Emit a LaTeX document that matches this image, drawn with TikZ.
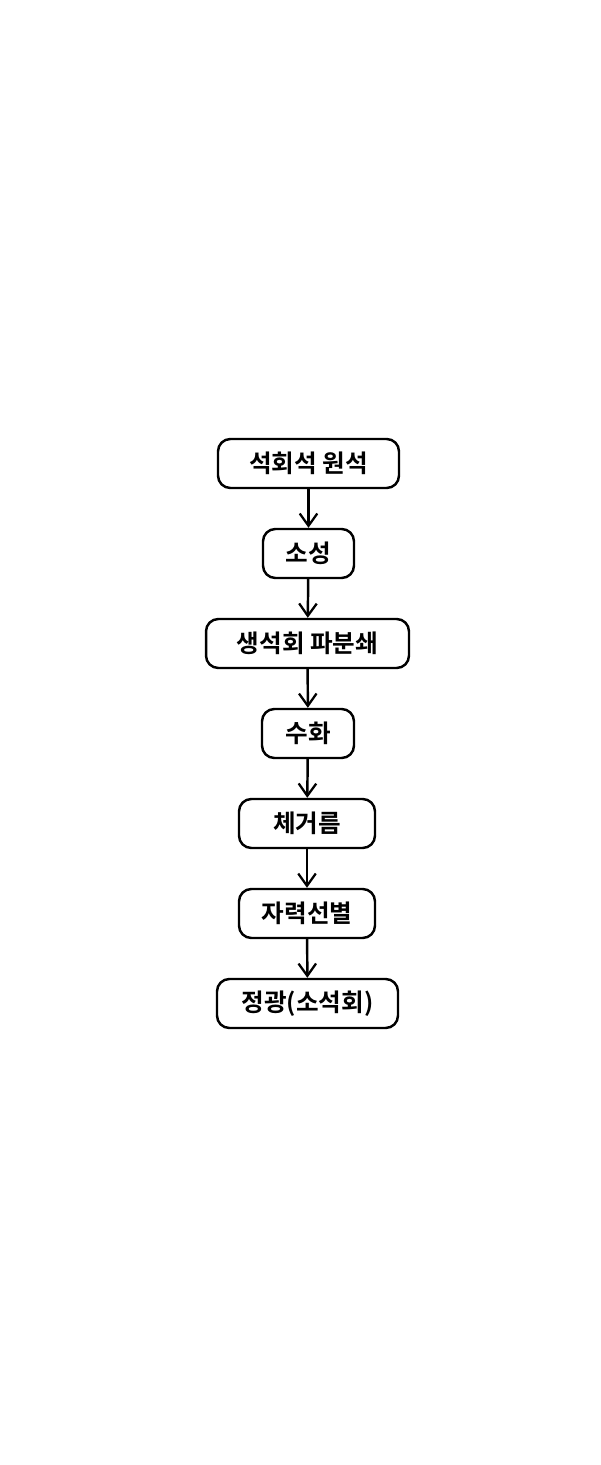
\documentclass[tikz,border=0pt]{standalone}
\usepackage{fontspec}
\newfontfamily\kr{Noto Sans CJK KR}[BoldFont={* Bold}]
\usetikzlibrary{arrows.meta}
\begin{document}
\begin{tikzpicture}[x=0.02cm,y=-0.02cm,
  stepbox/.style={draw,line width=1.4pt,rounded corners=7pt,minimum height=0.98cm,inner sep=0pt,font=\kr\bfseries\fontsize{14}{16}\selectfont},
  arr/.style={-{Straight Barb[length=7pt,width=10pt,line width=1.3pt]},line width=1.4pt}]
\useasboundingbox (0,0) rectangle (600,1465);
\node[stepbox,minimum width=3.62cm] (a) at (308.5,463.5) {석회석 원석};
\node[stepbox,minimum width=1.82cm] (b) at (308.5,553.5) {소성};
\node[stepbox,minimum width=4.06cm] (c) at (307.5,643.5) {생석회 파분쇄};
\node[stepbox,minimum width=1.84cm] (d) at (308,733.5) {수화};
\node[stepbox,minimum width=2.72cm] (e) at (307,823.5) {체거름};
\node[stepbox,minimum width=2.72cm] (f) at (307,913.5) {자력선별};
\node[stepbox,minimum width=3.62cm] (g) at (307.5,1003.5) {정광(소석회)};
\draw[arr] (a) -- (b);
\draw[arr] (b) -- (c);
\draw[arr] (c) -- (d);
\draw[arr] (d) -- (e);
\draw[arr] (e) -- (f);
\draw[arr] (f) -- (g);
\end{tikzpicture}
\end{document}
